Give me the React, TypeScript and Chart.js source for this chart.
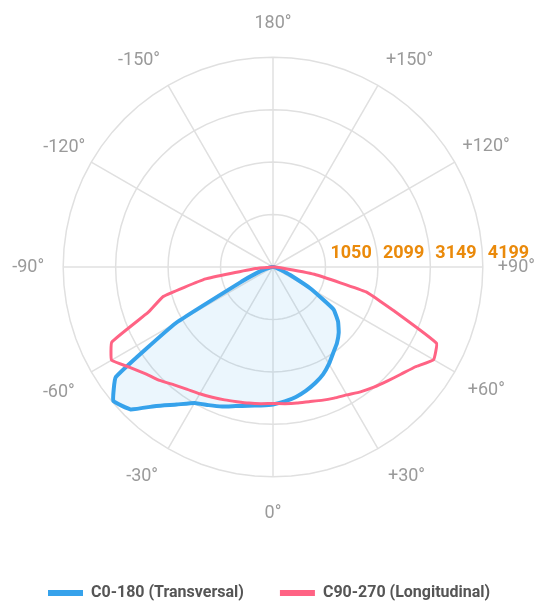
import React, { useEffect, useRef } from 'react';
import { Chart, registerables } from 'chart.js';

Chart.register(...registerables);

// Angle categories (degrees), clockwise from the top
const ANGLES: number[] = [
  180, 175, 170, 165, 160, 155, 150, 145, 140, 135, 130, 125, 120, 115, 110, 105, 100, 95,
  90, 85, 80, 75, 70, 65, 60, 55, 50, 45, 40, 35, 30, 25, 20, 15, 10, 5,
  0, -5, -10, -15, -20, -25, -30, -35, -40, -45, -50, -55, -60, -65, -70, -75, -80, -85,
  -90, -95, -100, -105, -110, -115, -120, -125, -130, -135, -140, -145, -150, -155, -160, -165, -170, -175,
];

// C0-180 (Transversal) luminous intensity, aligned with ANGLES
const C0_180: number[] = [
  0, 0, 0, 0, 0, 0, 0, 0, 0, 0, 0, 0, 0, 0, 0, 0, 0, 0,
  0, 10, 35, 80, 170, 380, 880, 1480, 1700, 1860, 1990, 2100, 2240, 2370, 2470, 2560, 2640, 2700,
  2750, 2780, 2820, 2880, 2970, 3050, 3140, 3360, 3630, 4030, 4170, 3840, 2250, 700, 330, 150, 60, 20,
  0, 0, 0, 0, 0, 0, 0, 0, 0, 0, 0, 0, 0, 0, 0, 0, 0, 0,
];

// C90-270 (Longitudinal) luminous intensity, aligned with ANGLES
const C90_270: number[] = [
  0, 0, 0, 0, 0, 0, 0, 0, 0, 0, 0, 0, 0, 0, 0, 0, 0, 0,
  0, 150, 840, 1930, 2590, 3610, 3710, 3480, 3340, 3230, 3140, 3050, 2955, 2895, 2840, 2790, 2765, 2745,
  2730, 2745, 2765, 2790, 2830, 2875, 2930, 2990, 3080, 3210, 3325, 3500, 3730, 3560, 2660, 2270, 1370, 350,
  0, 0, 0, 0, 0, 0, 0, 0, 0, 0, 0, 0, 0, 0, 0, 0, 0, 0,
];

const SERIES_NAMES: string[] = ['C0-180 (Transversal)', 'C90-270 (Longitudinal)'];
const TICK_LABELS: string[] = ['1050', '2099', '3149', '4199'];
const R_MAX = 4199;

const BLUE = 'rgb(54,162,235)';
const PINK = 'rgb(255,99,132)';
const GRID = '#e0e0e0';
const ORANGE = '#EA8A0B';

const LABEL_PAD: Record<string, number> = {
  '180': 23, '150': 16, '120': 9, '90': 15, '60': 15, '30': 20, '0': 26,
  '-30': 20, '-60': 19, '-90': 19, '-120': 7, '-150': 16,
};

function fmtAngle(a: number): string {
  if (a === 0 || a === 180) return `${a}°`;
  return `${a > 0 ? '+' : ''}${a}°`;
}

const horizontalTicks = {
  id: 'horizontalTicks',
  afterDraw(chart: any) {
    const s = chart.scales.r;
    const ctx = chart.ctx;
    ctx.save();
    ctx.font = 'bold 18px Roboto';
    ctx.fillStyle = ORANGE;
    ctx.textAlign = 'left';
    ctx.textBaseline = 'alphabetic';
    s.ticks.forEach((t: any, i: number) => {
      if (i === 0) return;
      const d = s.getDistanceFromCenterForValue(t.value);
      ctx.fillText(String(t.label), s.xCenter + d + 5, s.yCenter - 9);
    });
    ctx.restore();
  },
};

export default function App() {
  const ref = useRef<HTMLCanvasElement>(null);

  useEffect(() => {
    if (!ref.current) return;
    Chart.defaults.font.family = 'Roboto';
    const chart = new Chart(ref.current, {
      type: 'radar',
      data: {
        labels: ANGLES,
        datasets: [
          {
            label: SERIES_NAMES[0],
            data: C0_180,
            borderColor: BLUE,
            backgroundColor: 'rgba(54,162,235,0.1)',
            borderWidth: 4,
            fill: true,
            pointRadius: 0,
            tension: 0.1,
            borderJoinStyle: 'round',
            order: 1,
          },
          {
            label: SERIES_NAMES[1],
            data: C90_270,
            borderColor: PINK,
            backgroundColor: 'rgba(255,99,132,0)',
            borderWidth: 3,
            fill: false,
            pointRadius: 0,
            tension: 0.1,
            borderJoinStyle: 'round',
            order: 0,
          },
        ],
      },
      options: {
        responsive: false,
        animation: false,
        events: [],
        layout: { padding: { left: 12, right: 0, top: 0, bottom: 0 } },
        scales: {
          r: {
            min: 0,
            max: R_MAX,
            startAngle: 0,
            ticks: {
              display: false,
              stepSize: R_MAX / 4,
              callback: (_v: any, i: number) => (i === 0 ? '0' : TICK_LABELS[i - 1]),
            },
            grid: { color: GRID, lineWidth: 1.5, circular: false },
            angleLines: {
              color: (c: any) => (ANGLES[c.index] % 30 === 0 ? GRID : 'rgba(0,0,0,0)'),
              lineWidth: (c: any) => (ANGLES[c.index] % 30 === 0 ? 1.5 : 0),
            },
            pointLabels: {
              color: '#9a9a9a',
              font: { family: 'Roboto', size: 18 },
              padding: (c: any) => LABEL_PAD[String(ANGLES[c.index])] ?? 0,
              callback: (v: any) => (Number(v) % 30 === 0 ? fmtAngle(Number(v)) : ''),
            },
          },
        },
        plugins: {
          tooltip: { enabled: false },
          legend: {
            position: 'bottom',
            align: 'start',
            title: { display: true, text: '', font: { size: 10, lineHeight: 1 }, padding: 0 },
            labels: {
              boxWidth: 35,
              boxHeight: 6,
              padding: 36,
              color: '#555555',
              font: { family: 'Roboto', size: 16, weight: 'bold' },
              sort: (a: any, b: any) => a.datasetIndex - b.datasetIndex,
              generateLabels: (ch: any) =>
                (Chart.defaults.plugins.legend.labels as any)
                  .generateLabels(ch)
                  .map((l: any) => ({ ...l, fillStyle: l.strokeStyle, lineWidth: 0 })),
            },
          },
        },
      } as any,
      plugins: [horizontalTicks],
    });
    return () => chart.destroy();
  }, []);

  return (
    <div style={{ position: 'fixed', left: 0, top: 0, width: 536, height: 601, overflow: 'hidden', background: '#fff' }}>
      <canvas ref={ref} width={536} height={611} style={{ display: 'block' }} />
    </div>
  );
}
